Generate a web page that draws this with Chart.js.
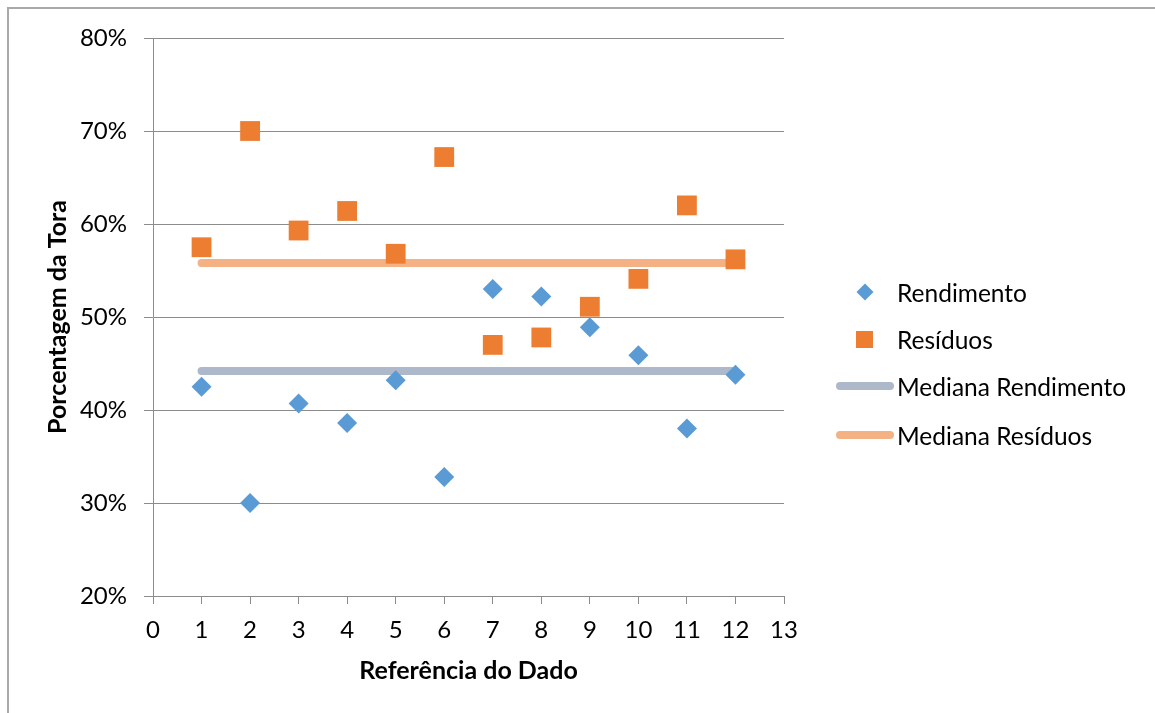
<!DOCTYPE html>
<html><head><meta charset="utf-8">
<script src="https://cdn.jsdelivr.net/npm/chart.js@4/dist/chart.umd.min.js"></script>
<style>
html,body{margin:0;padding:0;background:#fff;overflow:hidden}
#wrap{position:relative;width:1155px;height:713px;overflow:hidden}
#frame{position:absolute;left:7px;top:7px;width:1300px;height:900px;border-left:2px solid #a9a9a9;border-top:2px solid #a9a9a9}
#c{position:absolute;left:0;top:0}
#legend{position:absolute;left:0;top:0;width:1155px;height:713px;font-family:Lato,sans-serif;font-size:24.5px;color:#000}
.item{position:absolute;left:830px;height:30px;display:flex;align-items:center;white-space:nowrap}
.mk{width:67px;height:30px;position:relative;flex:none}
</style></head>
<body><div id="wrap"><div id="frame"></div><canvas id="c" width="1155" height="713"></canvas><div id="legend"></div></div>
<script>
// ---- data ----
const refs = [1,2,3,4,5,6,7,8,9,10,11,12];
const rendimento = [42.5,30.0,40.7,38.6,43.2,32.8,53.0,52.2,48.9,45.9,38.0,43.8];
const residuos   = [57.5,70.0,59.3,61.4,56.8,67.2,47.0,47.8,51.1,54.1,62.0,56.2];
const medianaRendimento = 44.2;
const medianaResiduos   = 55.8;
const seriesNames = ['Rendimento','Resíduos','Mediana Rendimento','Mediana Resíduos'];
const xRange = [0,13];
const yRange = [20,80];
const xTitle = 'Referência do Dado';
const yTitle = 'Porcentagem da Tora';

const colors = ['#5B9BD5','#ED7D31','#ADB9CA','#F4B183'];
const pts = arr => refs.map((r,i)=>({x:r,y:arr[i]}));
const medLine = v => [{x:refs[0],y:v},{x:refs[refs.length-1],y:v}];
const gridCol = '#8c8c8c';
const FONT = 'Lato';

const chart = new Chart(document.getElementById('c'), {
  type:'scatter',
  data:{datasets:[
    {label:seriesNames[0],data:pts(rendimento),pointStyle:'rectRot',pointRadius:10,pointHoverRadius:10,backgroundColor:colors[0],borderColor:colors[0],borderWidth:0},
    {label:seriesNames[1],data:pts(residuos),pointStyle:'rect',pointRadius:14,pointHoverRadius:14,backgroundColor:colors[1],borderColor:colors[1],borderWidth:0},
    {label:seriesNames[2],data:medLine(medianaRendimento),showLine:true,pointRadius:0,borderColor:colors[2],borderWidth:8,borderCapStyle:'round'},
    {label:seriesNames[3],data:medLine(medianaResiduos),showLine:true,pointRadius:0,borderColor:colors[3],borderWidth:8,borderCapStyle:'round'}
  ]},
  options:{
    responsive:false,animation:false,devicePixelRatio:1,
    layout:{padding:{left:0,top:38,right:371,bottom:0}},
    plugins:{legend:{display:false},tooltip:{enabled:false}},
    scales:{
      x:{type:'linear',min:xRange[0],max:xRange[1],
         ticks:{stepSize:1,color:'#000',font:{family:FONT,size:24},padding:12},
         grid:{drawOnChartArea:false,drawTicks:true,tickLength:8,color:gridCol},
         border:{display:true,color:gridCol},
         title:{display:true,text:xTitle,color:'#000',font:{family:FONT,size:25,weight:'bold'},padding:{top:0,bottom:27}},
         afterFit:s=>{s.height=117;}},
      y:{min:yRange[0],max:yRange[1],
         ticks:{stepSize:10,color:'#000',font:{family:FONT,size:24},padding:17,callback:v=>v+'%'},
         grid:{tickLength:9,color:gridCol},
         border:{display:true,color:gridCol},
         title:{display:true,text:yTitle,color:'#000',font:{family:FONT,size:25,weight:'bold'},padding:{top:43,bottom:0}},
         afterFit:s=>{s.width=153;}}
    }
  }
});

// ---- HTML legend built from datasets ----
const lg = document.getElementById('legend');
const ys = [292,339,386,435];
chart.data.datasets.forEach((ds,i)=>{
  const it = document.createElement('div'); it.className='item'; it.style.top=(ys[i]-15)+'px';
  const mk = document.createElement('div'); mk.className='mk';
  const s = document.createElement('div'); s.style.position='absolute';
  if(i===0){ s.style.cssText+='left:29px;top:9px;width:12px;height:12px;transform:rotate(45deg);background:'+ds.backgroundColor; }
  else if(i===1){ s.style.cssText+='left:26px;top:7px;width:17px;height:17px;background:'+ds.backgroundColor; }
  else { s.style.cssText+='left:6px;top:11px;width:58px;height:8px;border-radius:4px;background:'+ds.borderColor; }
  mk.appendChild(s); it.appendChild(mk);
  const t = document.createElement('span'); t.textContent=ds.label; it.appendChild(t);
  lg.appendChild(it);
});
</script></body></html>
